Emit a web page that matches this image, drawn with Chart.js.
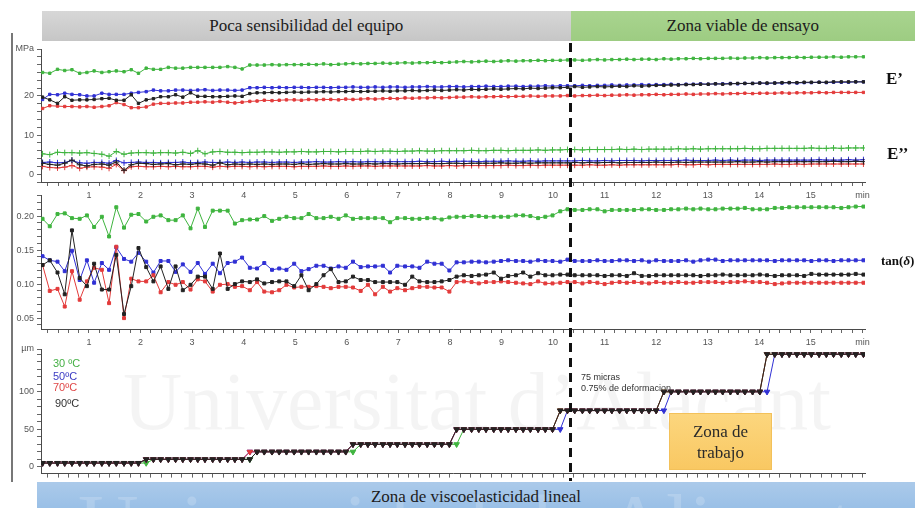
<!DOCTYPE html>
<html>
<head>
<meta charset="utf-8">
<script src="https://cdn.jsdelivr.net/npm/chart.js@4.4.1/dist/chart.umd.min.js"></script>
<style>
  html, body { margin: 0; padding: 0; background: #fff; }
  #stage { position: relative; width: 918px; height: 508px; overflow: hidden; background: #fff; }
  .panel { position: absolute; left: 0; z-index: 2; }
  #overlay { position: absolute; left: 0; top: 0; z-index: 4; pointer-events: none; }
  .band { position: absolute; z-index: 5; display: flex; align-items: center; justify-content: center;
          font-family: 'Liberation Serif', 'Times New Roman', serif; font-size: 17px; color: #1c1c1c; box-sizing: border-box; }
  #bandLow { background: linear-gradient(180deg, #d7d7d7 0%, #c6c6c6 100%); top: 11px; height: 30px; }
  #bandHigh { background: linear-gradient(180deg, #a9d48f 0%, #9dcc82 100%); top: 11px; height: 30px; }
  #bandLinear { left: 37px; top: 482px; width: 878px; height: 30px; overflow: hidden;
                background: linear-gradient(180deg, #abcaea 0%, #97bee6 100%); align-items: flex-start; padding-top: 5px; }
  #bandLinear .wm2 { position: absolute; left: 41px; top: 1px; font-size: 84px; line-height: 84px; white-space: nowrap;
                     color: rgba(255,255,255,0.18); font-family: 'Liberation Serif', serif; }
  #bandLinear span.t { position: relative; }
  .wm { position: absolute; z-index: 1; white-space: nowrap; font-family: 'Liberation Serif', serif; color: rgba(0,0,0,0.045); }
  #frameLine { position: absolute; left: 11px; top: 33px; width: 2px; height: 449px; background: #777; z-index: 3; }
  .side { position: absolute; z-index: 3; font-family: 'Liberation Serif', serif; font-weight: bold; color: #111; white-space: nowrap; }
  .temp { position: absolute; z-index: 3; font-family: 'Liberation Sans', Arial, sans-serif; font-size: 11px; line-height: 12px; white-space: nowrap; }
  .note { position: absolute; z-index: 3; font-family: 'Liberation Sans', Arial, sans-serif; font-size: 9px; line-height: 11px; color: #333; white-space: nowrap; }
  #workZone { position: absolute; z-index: 3; left: 669px; top: 413px; width: 103px; height: 57px;
              background: linear-gradient(180deg, #fcd67e 0%, #f9c862 100%); border: 1px solid #f3c15a; box-sizing: border-box;
              display: flex; align-items: center; justify-content: center; text-align: center;
              font-family: 'Liberation Serif', serif; font-size: 17px; line-height: 21px; color: #2a2a2a; }
</style>
</head>
<body>
<div id="stage">
  <div class="wm" style="left:123px; top:361px; font-size:82px; line-height:82px;">Universitat d’Alacant</div>

  <div id="frameLine"></div>

  <canvas id="modulusChart" class="panel" width="918" height="165" style="top:40px"></canvas>
  <canvas id="tanChart" class="panel" width="918" height="163" style="top:185px"></canvas>
  <canvas id="strainChart" class="panel" width="918" height="142" style="top:340px"></canvas>
  <canvas id="overlay" width="918" height="508"></canvas>

  <div id="bandLow" class="band">Poca sensibilidad del equipo</div>
  <div id="bandHigh" class="band">Zona viable de ensayo</div>
  <div id="bandLinear" class="band"><div class="wm2">Universidad de Alicante</div><span class="t">Zona de viscoelasticidad lineal</span></div>

  <div class="side" style="left:886px; top:69px; font-size:17px;">E’</div>
  <div class="side" style="left:887px; top:144px; font-size:17px;">E’’</div>
  <div class="side" style="left:881px; top:253px; font-size:13px;">tan(<i>δ</i>)</div>

  <div id="tempLegend"></div>

  <div class="note" style="left:581px; top:372px;">75 micras</div>
  <div class="note" style="left:581px; top:383px;">0.75% de deformacion</div>

  <div id="workZone">Zona de<br>trabajo</div>
</div>

<script>
// Sampling times (min)
const minutes = [
  0.10,0.24,0.39,0.53,0.67,0.82,0.96,1.10,1.25,1.39,
  1.53,1.68,1.82,1.96,2.11,2.25,2.39,2.54,2.68,2.82,
  2.97,3.11,3.25,3.40,3.54,3.69,3.83,3.97,4.12,4.26,
  4.40,4.55,4.69,4.83,4.98,5.12,5.26,5.41,5.55,5.69,
  5.84,5.98,6.12,6.27,6.41,6.55,6.70,6.84,6.98,7.13,
  7.27,7.41,7.56,7.70,7.84,7.99,8.13,8.27,8.42,8.56,
  8.70,8.85,8.99,9.13,9.28,9.42,9.56,9.71,9.85,9.99,
  10.14,10.28,10.42,10.57,10.71,10.86,11.00,11.14,11.29,11.43,
  11.57,11.72,11.86,12.00,12.15,12.29,12.43,12.58,12.72,12.86,
  13.01,13.15,13.29,13.44,13.58,13.72,13.87,14.01,14.15,14.30,
  14.44,14.58,14.73,14.87,15.01,15.16,15.30,15.44,15.59,15.73,
  15.87,16.02
];

const tempLabels = ['30 ºC', '50ºC', '70ºC', '90ºC'];
const tempColors = ['#3fb43f', '#3030d4', '#e33b3b', '#222222'];
const legendColors = ['#45b045', '#3c3cc4', '#e04848', '#333333'];

// Storage modulus E' (MPa)
const ePrime30 = [
  26.0,25.8,26.8,26.5,26.7,25.8,26.0,26.4,26.0,26.2,
  26.4,26.2,26.7,25.8,27.1,26.8,26.8,27.3,27.1,27.1,
  27.3,27.3,27.3,27.3,27.3,27.5,27.3,26.9,27.9,27.9,
  27.9,28.0,27.9,28.0,28.0,28.0,28.1,28.0,28.2,28.0,
  28.1,28.2,28.3,28.2,28.3,28.3,28.4,28.3,28.4,28.5,
  28.4,28.5,28.5,28.6,28.5,28.6,28.7,28.8,28.7,28.8,
  28.9,28.8,28.9,29.0,28.9,29.0,29.0,29.1,29.0,29.1,
  29.1,29.2,29.2,29.1,29.2,29.3,29.2,29.3,29.3,29.4,
  29.3,29.4,29.4,29.3,29.5,29.4,29.5,29.5,29.6,29.5,
  29.6,29.6,29.6,29.7,29.6,29.7,29.7,29.8,29.7,29.8,
  29.8,29.8,29.9,29.8,29.9,29.9,29.9,30.0,29.9,30.0,
  30.0,30.0
];
const ePrime50 = [
  19.1,20.4,20.3,20.7,20.4,20.3,20.0,20.0,20.7,20.4,
  20.4,20.4,20.7,20.9,21.1,21.5,21.3,21.3,21.5,21.5,
  21.4,21.5,21.6,21.4,21.5,21.5,21.4,21.5,22.1,22.1,
  22.2,22.1,22.2,22.1,22.2,22.2,22.1,22.2,22.2,22.1,
  22.2,22.2,22.3,22.2,22.2,22.3,22.2,22.3,22.3,22.2,
  22.3,22.3,22.4,22.3,22.3,22.4,22.4,22.3,22.4,22.4,
  22.5,22.4,22.4,22.5,22.5,22.4,22.5,22.5,22.6,22.5,
  22.6,22.6,22.6,22.7,22.6,22.7,22.7,22.8,22.7,22.8,
  22.8,22.9,22.8,22.9,22.9,23.0,22.9,23.0,23.0,23.1,
  23.0,23.1,23.1,23.2,23.1,23.2,23.2,23.3,23.2,23.3,
  23.3,23.4,23.3,23.4,23.4,23.5,23.4,23.5,23.5,23.5,
  23.6,23.6
];
const ePrime70 = [
  16.8,17.5,17.4,17.3,17.3,17.2,17.3,17.1,17.3,17.5,
  18.3,17.8,17.0,17.0,17.2,17.9,18.1,18.1,18.2,18.2,
  18.4,18.4,18.5,18.4,18.6,18.4,18.2,18.4,18.6,18.7,
  18.9,18.8,18.9,19.0,19.0,18.9,19.1,19.0,19.1,19.1,
  19.0,19.2,19.1,19.2,19.3,19.2,19.3,19.4,19.3,19.5,
  19.4,19.5,19.5,19.6,19.5,19.6,19.7,19.7,19.8,19.7,
  19.8,19.8,19.9,19.8,19.9,19.9,20.0,19.9,20.0,20.0,
  20.0,20.1,20.0,20.1,20.1,20.2,20.1,20.2,20.2,20.3,
  20.2,20.3,20.3,20.4,20.3,20.4,20.4,20.5,20.4,20.5,
  20.5,20.6,20.5,20.6,20.6,20.7,20.6,20.7,20.7,20.7,
  20.8,20.7,20.8,20.8,20.8,20.9,20.8,20.9,20.9,20.9,
  20.9,20.9
];
const ePrime90 = [
  19.7,19.0,18.1,19.8,18.9,19.0,19.0,19.1,19.3,19.4,
  18.9,18.9,20.3,18.1,19.0,19.3,19.8,19.8,20.3,19.7,
  20.8,19.9,19.9,19.8,19.8,19.9,20.0,19.9,20.6,20.8,
  20.8,20.9,20.8,20.9,21.0,20.9,21.0,21.0,21.1,21.0,
  21.1,21.1,21.2,21.1,21.2,21.2,21.3,21.2,21.3,21.3,
  21.4,21.3,21.4,21.5,21.4,21.5,21.6,21.5,21.7,21.6,
  21.7,21.8,21.7,21.8,21.9,21.8,22.0,21.9,22.0,22.1,
  22.1,22.2,22.4,22.2,22.3,22.4,22.3,22.4,22.5,22.4,
  22.6,22.5,22.6,22.7,22.7,22.8,22.8,22.9,22.9,23.0,
  23.0,23.1,23.0,23.1,23.2,23.2,23.2,23.3,23.3,23.3,
  23.4,23.4,23.4,23.5,23.5,23.5,23.5,23.6,23.6,23.6,
  23.6,23.6
];

// Loss modulus E'' (MPa)
const eDouble30 = [
  5.2,5.0,5.6,5.5,5.5,5.4,5.5,5.3,5.1,4.6,
  5.8,5.1,5.4,5.5,5.5,5.4,5.5,5.5,5.4,5.6,
  5.3,6.0,5.2,5.7,5.8,5.6,5.6,5.5,5.6,5.6,
  5.7,5.7,5.6,5.7,5.7,5.8,5.7,5.7,5.8,5.8,
  5.7,5.8,5.8,5.8,5.9,5.8,5.9,5.9,5.8,5.9,
  5.9,6.0,5.9,5.9,6.0,6.0,6.0,6.0,6.1,6.0,
  6.0,6.1,6.1,6.0,6.1,6.1,6.1,6.2,6.1,6.2,
  6.2,6.3,6.3,6.2,6.3,6.3,6.3,6.3,6.4,6.3,
  6.4,6.3,6.4,6.4,6.4,6.4,6.5,6.4,6.5,6.4,
  6.5,6.5,6.5,6.5,6.5,6.6,6.5,6.5,6.6,6.6,
  6.6,6.6,6.6,6.6,6.7,6.6,6.6,6.7,6.6,6.7,
  6.7,6.7
];
const eDouble50 = [
  3.0,3.1,2.9,3.0,3.5,2.9,2.8,3.0,3.0,2.8,
  3.5,2.9,3.0,3.1,3.0,3.0,2.9,3.0,3.0,3.1,
  2.9,3.0,3.1,3.0,3.0,3.1,3.0,3.1,3.0,3.1,
  3.1,3.0,3.1,3.1,3.0,3.1,3.1,3.2,3.1,3.1,
  3.2,3.1,3.2,3.1,3.2,3.2,3.1,3.2,3.2,3.2,
  3.2,3.3,3.2,3.2,3.3,3.2,3.3,3.3,3.3,3.2,
  3.3,3.3,3.3,3.4,3.3,3.3,3.4,3.3,3.4,3.4,
  3.4,3.4,3.4,3.5,3.4,3.4,3.5,3.4,3.5,3.5,
  3.5,3.4,3.5,3.5,3.5,3.5,3.5,3.6,3.5,3.5,
  3.5,3.6,3.5,3.6,3.5,3.6,3.6,3.5,3.6,3.6,
  3.6,3.6,3.6,3.6,3.6,3.7,3.6,3.6,3.6,3.7,
  3.6,3.7
];
const eDouble70 = [
  2.0,1.7,1.6,1.8,2.2,1.5,1.8,1.9,1.8,1.5,
  2.5,0.9,1.9,2.0,1.9,1.9,2.0,1.9,2.0,1.9,
  1.9,2.0,2.0,1.8,2.0,1.9,2.0,2.0,1.9,2.0,
  1.9,2.0,2.0,2.0,1.9,2.0,2.0,2.0,2.1,2.0,
  2.0,2.1,2.0,2.1,2.1,2.0,2.1,2.1,2.1,2.1,
  2.1,2.1,2.2,2.1,2.1,2.2,2.1,2.2,2.2,2.2,
  2.2,2.2,2.2,2.3,2.2,2.2,2.3,2.2,2.3,2.3,
  2.3,2.3,2.3,2.3,2.4,2.3,2.3,2.4,2.3,2.4,
  2.4,2.4,2.4,2.4,2.4,2.4,2.5,2.4,2.4,2.5,
  2.4,2.5,2.5,2.5,2.5,2.5,2.5,2.5,2.5,2.6,
  2.5,2.5,2.6,2.5,2.6,2.6,2.6,2.6,2.6,2.6,
  2.6,2.6
];
const eDouble90 = [
  2.8,2.5,2.3,2.8,3.6,2.4,2.1,2.5,2.6,2.3,
  3.1,1.0,2.4,2.8,2.7,2.5,2.6,2.7,2.4,2.6,
  2.5,2.7,2.6,2.3,2.9,2.4,2.6,2.5,2.6,2.5,
  2.6,2.5,2.6,2.6,2.5,2.7,2.5,2.6,2.7,2.6,
  2.6,2.7,2.6,2.6,2.7,2.6,2.7,2.7,2.6,2.7,
  2.7,2.7,2.8,2.7,2.7,2.8,2.8,2.7,2.8,2.8,
  2.8,2.8,2.9,2.8,2.8,2.9,2.8,2.9,2.9,2.9,
  2.9,2.9,3.0,2.9,3.0,2.9,3.0,3.0,2.9,3.0,
  3.0,3.0,3.0,3.1,3.0,3.0,3.1,3.0,3.1,3.1,
  3.1,3.1,3.1,3.1,3.2,3.1,3.1,3.2,3.1,3.2,
  3.2,3.2,3.2,3.2,3.2,3.2,3.2,3.3,3.2,3.2,
  3.3,3.2
];

// Loss factor tan(δ)
const tanDelta30 = [
  0.196,0.185,0.203,0.204,0.197,0.196,0.201,0.184,0.199,0.170,
  0.213,0.183,0.202,0.203,0.192,0.199,0.201,0.194,0.194,0.201,
  0.182,0.211,0.184,0.208,0.208,0.208,0.189,0.194,0.195,0.195,
  0.200,0.193,0.196,0.199,0.197,0.197,0.203,0.197,0.197,0.199,
  0.196,0.201,0.196,0.197,0.197,0.197,0.197,0.191,0.197,0.197,
  0.196,0.196,0.197,0.197,0.195,0.198,0.199,0.199,0.200,0.200,
  0.199,0.199,0.199,0.199,0.201,0.201,0.200,0.197,0.199,0.201,
  0.207,0.210,0.209,0.209,0.210,0.210,0.207,0.209,0.209,0.209,
  0.209,0.210,0.210,0.209,0.209,0.210,0.210,0.211,0.210,0.211,
  0.210,0.210,0.211,0.211,0.211,0.212,0.210,0.210,0.210,0.212,
  0.212,0.213,0.213,0.213,0.213,0.213,0.213,0.213,0.212,0.213,
  0.214,0.214
];
const tanDelta50 = [
  0.141,0.135,0.133,0.119,0.149,0.106,0.135,0.102,0.131,0.121,
  0.154,0.137,0.133,0.146,0.133,0.117,0.134,0.134,0.118,0.129,
  0.118,0.131,0.115,0.130,0.116,0.131,0.133,0.139,0.124,0.123,
  0.131,0.121,0.123,0.121,0.130,0.119,0.122,0.127,0.127,0.123,
  0.126,0.124,0.133,0.125,0.126,0.126,0.127,0.117,0.127,0.126,
  0.126,0.124,0.133,0.130,0.130,0.120,0.132,0.132,0.133,0.133,
  0.132,0.133,0.134,0.135,0.134,0.134,0.133,0.135,0.134,0.134,
  0.133,0.136,0.134,0.134,0.134,0.135,0.134,0.134,0.135,0.135,
  0.134,0.135,0.133,0.135,0.134,0.134,0.134,0.135,0.133,0.135,
  0.136,0.136,0.134,0.135,0.135,0.135,0.135,0.135,0.135,0.134,
  0.135,0.135,0.135,0.135,0.134,0.135,0.135,0.134,0.135,0.135,
  0.135,0.135
];
const tanDelta70 = [
  0.128,0.090,0.093,0.067,0.119,0.077,0.104,0.124,0.121,0.072,
  0.155,0.050,0.108,0.104,0.104,0.113,0.088,0.103,0.099,0.103,
  0.092,0.107,0.104,0.089,0.099,0.100,0.096,0.097,0.091,0.103,
  0.089,0.088,0.091,0.099,0.095,0.096,0.096,0.097,0.096,0.094,
  0.096,0.096,0.095,0.090,0.099,0.085,0.096,0.089,0.094,0.091,
  0.094,0.096,0.096,0.095,0.095,0.089,0.103,0.104,0.103,0.101,
  0.103,0.103,0.104,0.103,0.102,0.101,0.100,0.104,0.101,0.101,
  0.102,0.103,0.103,0.101,0.103,0.102,0.100,0.102,0.103,0.102,
  0.103,0.102,0.101,0.103,0.102,0.102,0.103,0.102,0.102,0.103,
  0.103,0.103,0.102,0.103,0.103,0.104,0.103,0.103,0.102,0.100,
  0.101,0.102,0.102,0.102,0.102,0.102,0.102,0.102,0.102,0.102,
  0.102,0.102
];
const tanDelta90 = [
  0.128,0.135,0.117,0.085,0.179,0.109,0.097,0.130,0.092,0.092,
  0.143,0.056,0.097,0.153,0.125,0.104,0.126,0.093,0.126,0.091,
  0.099,0.111,0.111,0.093,0.145,0.093,0.100,0.104,0.103,0.107,
  0.101,0.103,0.104,0.104,0.097,0.113,0.091,0.100,0.113,0.122,
  0.103,0.104,0.111,0.106,0.106,0.103,0.103,0.103,0.103,0.099,
  0.111,0.104,0.103,0.103,0.104,0.106,0.111,0.113,0.112,0.113,
  0.114,0.117,0.108,0.112,0.113,0.117,0.111,0.116,0.113,0.113,
  0.114,0.114,0.113,0.113,0.113,0.113,0.112,0.113,0.113,0.112,
  0.116,0.112,0.112,0.113,0.113,0.113,0.113,0.113,0.113,0.112,
  0.113,0.113,0.114,0.113,0.113,0.113,0.113,0.114,0.113,0.112,
  0.113,0.113,0.113,0.112,0.115,0.114,0.114,0.114,0.114,0.114,
  0.115,0.114
];

// Imposed displacement amplitude (µm)
const strain30 = [
  5,5,5,5,5,5,5,5,5,5,
  5,5,5,5,5,10,10,10,10,10,
  10,10,10,10,10,10,10,10,10,20,
  20,20,20,20,20,20,20,20,20,20,
  20,20,20,30,30,30,30,30,30,30,
  30,30,30,30,30,30,30,50,50,50,
  50,50,50,50,50,50,50,50,50,50,
  75,75,75,75,75,75,75,75,75,75,
  75,75,75,75,100,100,100,100,100,100,
  100,100,100,100,100,100,100,100,150,150,
  150,150,150,150,150,150,150,150,150,150,
  150,150
];
const strain50 = [
  5,5,5,5,5,5,5,5,5,5,
  5,5,5,5,10,10,10,10,10,10,
  10,10,10,10,10,10,10,10,20,20,
  20,20,20,20,20,20,20,20,20,20,
  20,20,30,30,30,30,30,30,30,30,
  30,30,30,30,30,30,50,50,50,50,
  50,50,50,50,50,50,50,50,50,50,
  50,75,75,75,75,75,75,75,75,75,
  75,75,75,75,75,100,100,100,100,100,
  100,100,100,100,100,100,100,100,100,150,
  150,150,150,150,150,150,150,150,150,150,
  150,150
];
const strain70 = [
  5,5,5,5,5,5,5,5,5,5,
  5,5,5,5,10,10,10,10,10,10,
  10,10,10,10,10,10,10,10,20,20,
  20,20,20,20,20,20,20,20,20,20,
  20,20,30,30,30,30,30,30,30,30,
  30,30,30,30,30,30,50,50,50,50,
  50,50,50,50,50,50,50,50,50,50,
  75,75,75,75,75,75,75,75,75,75,
  75,75,75,75,100,100,100,100,100,100,
  100,100,100,100,100,100,100,100,150,150,
  150,150,150,150,150,150,150,150,150,150,
  150,150
];
const strain90 = [
  5,5,5,5,5,5,5,5,5,5,
  5,5,5,5,10,10,10,10,10,10,
  10,10,10,10,10,10,10,10,10,20,
  20,20,20,20,20,20,20,20,20,20,
  20,20,30,30,30,30,30,30,30,30,
  30,30,30,30,30,30,50,50,50,50,
  50,50,50,50,50,50,50,50,50,50,
  75,75,75,75,75,75,75,75,75,75,
  75,75,75,75,100,100,100,100,100,100,
  100,100,100,100,100,100,100,100,150,150,
  150,150,150,150,150,150,150,150,150,150,
  150,150
];

// Boundary between the low-sensitivity region and the usable test region (min)
const zoneSplitMin = 10.33;

// Axis ranges, tick spacing and the highest value that gets a number
const timeRange = { min: 0.07, max: 16.05, step: 0.2, unitLabel: 'min' };
const modRange = { min: -2, max: 32, step: 2, major: 10, labelMax: 20, unitLabel: 'MPa' };
const tanRange = { min: 0.034, max: 0.231, step: 0.01, major: 0.05, labelMax: 0.2 };
const strainRange = { min: -9, max: 157, step: 10, major: 50, labelMax: 100, unitLabel: 'µm' };

Chart.defaults.font.family = "'Liberation Sans', Arial, sans-serif";
Chart.defaults.font.size = 9;
Chart.defaults.color = '#555';

const toPoints = ys => ys.map((y, i) => ({ x: minutes[i], y }));

const markers = {
  storage: { style: 'rect', radius: 1.7 },
  loss: { style: 'cross', radius: 3 },
  tan: { style: 'rect', radius: 2.1 },
  strain: { style: 'triangle', radius: 3.2, rotation: 180 }
};

function series(values, k, m) {
  return {
    label: tempLabels[k],
    data: toPoints(values),
    borderColor: tempColors[k],
    backgroundColor: tempColors[k],
    borderWidth: 1,
    pointStyle: m.style,
    pointRadius: m.radius,
    pointRotation: m.rotation || 0,
    pointBorderWidth: 1,
    pointHoverRadius: 0,
    tension: 0,
    order: 3 - k
  };
}

const isMultiple = (v, step) => Math.abs(v / step - Math.round(v / step)) < 1e-6;

function timeAxis(showLabels, axisHeight) {
  return {
    type: 'linear',
    min: timeRange.min,
    max: timeRange.max,
    border: { display: true, color: '#4a4a4a', width: 1 },
    grid: { drawOnChartArea: false, drawTicks: true, tickLength: 4, color: '#666' },
    ticks: {
      stepSize: timeRange.step,
      includeBounds: false,
      autoSkip: false,
      maxRotation: 0,
      padding: 4,
      color: '#555',
      callback: v => {
        if (!showLabels || !isMultiple(v, 1)) return '';
        const n = Math.round(v);
        return n === 16 ? timeRange.unitLabel : String(n);
      }
    },
    afterFit: s => { s.height = axisHeight; }
  };
}

function valueAxis(range, format) {
  return {
    type: 'linear',
    min: range.min,
    max: range.max,
    border: { display: true, color: '#4a4a4a', width: 1 },
    grid: { drawOnChartArea: false, drawTicks: true, tickLength: 4, color: '#666' },
    ticks: {
      stepSize: range.step,
      includeBounds: false,
      autoSkip: false,
      padding: 3,
      color: '#555',
      callback: v => {
        if (range.unitLabel && Math.abs(v - range.max) < 1e-9) return range.unitLabel;
        const shown = isMultiple(v, range.major) && v >= -1e-9 && v <= range.labelMax + 1e-9;
        return shown ? format(v) : '';
      }
    },
    afterBuildTicks: s => {
      if (range.unitLabel && !s.ticks.some(t => Math.abs(t.value - range.max) < 1e-9)) {
        s.ticks.push({ value: range.max });
      }
    },
    afterFit: s => { s.width = 41; }
  };
}

function panel(id, datasets, xAxis, yAxis, padTop) {
  return new Chart(document.getElementById(id), {
    type: 'line',
    data: { datasets },
    options: {
      responsive: false,
      animation: false,
      events: [],
      layout: { padding: { left: 0, right: 53, top: padTop, bottom: 0 } },
      plugins: { legend: { display: false }, tooltip: { enabled: false } },
      scales: { x: xAxis, y: yAxis }
    }
  });
}

const modulusChart = panel('modulusChart', [
  series(ePrime30, 0, markers.storage), series(ePrime50, 1, markers.storage),
  series(ePrime70, 2, markers.storage), series(ePrime90, 3, markers.storage),
  series(eDouble30, 0, markers.loss), series(eDouble50, 1, markers.loss),
  series(eDouble70, 2, markers.loss), series(eDouble90, 3, markers.loss)
], timeAxis(true, 23), valueAxis(modRange, v => String(Math.round(v))), 9);

const tanChart = panel('tanChart', [
  series(tanDelta30, 0, markers.tan), series(tanDelta50, 1, markers.tan),
  series(tanDelta70, 2, markers.tan), series(tanDelta90, 3, markers.tan)
], timeAxis(true, 19), valueAxis(tanRange, v => v.toFixed(2)), 10);

const strainChart = panel('strainChart', [
  series(strain30, 0, markers.strain), series(strain50, 1, markers.strain),
  series(strain70, 2, markers.strain), series(strain90, 3, markers.strain)
], timeAxis(false, 5), valueAxis(strainRange, v => String(Math.round(v))), 9);

// Zone boundary: dashed vertical line through all three panels, placed with the time scale
const splitX = Math.round(tanChart.scales.x.getPixelForValue(zoneSplitMin)) + 0.5;
const octx = document.getElementById('overlay').getContext('2d');
octx.strokeStyle = '#111';
octx.lineWidth = 3;
octx.setLineDash([9, 6]);
octx.beginPath();
octx.moveTo(splitX, 43);
octx.lineTo(splitX, 481);
octx.stroke();

// Top bands split at the same boundary
const plotLeft = modulusChart.chartArea.left;
const bandLow = document.getElementById('bandLow');
const bandHigh = document.getElementById('bandHigh');
bandLow.style.left = (plotLeft + 1) + 'px';
bandLow.style.width = (splitX - plotLeft - 1) + 'px';
bandHigh.style.left = splitX + 'px';
bandHigh.style.width = (915 - splitX) + 'px';

// Temperature key inside the displacement panel
const legendTops = [357, 370, 381, 397];
const legendLefts = [53, 53, 53, 55];
const legendBox = document.getElementById('tempLegend');
tempLabels.forEach((t, k) => {
  const d = document.createElement('div');
  d.className = 'temp';
  d.textContent = t;
  d.style.left = legendLefts[k] + 'px';
  d.style.top = legendTops[k] + 'px';
  d.style.color = legendColors[k];
  legendBox.appendChild(d);
});
</script>
</body>
</html>
